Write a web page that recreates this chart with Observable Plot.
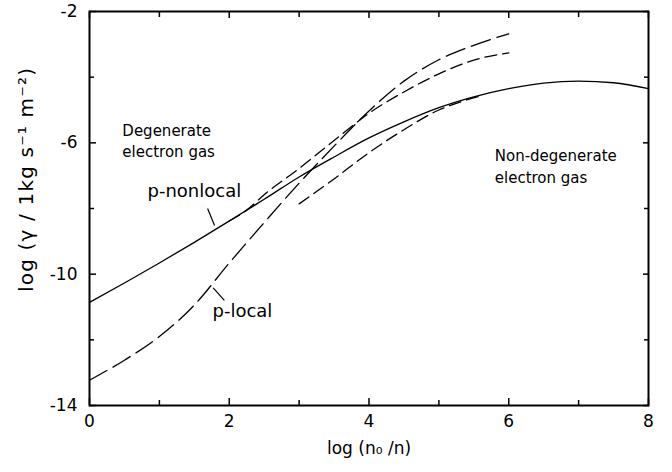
<!DOCTYPE html>
<html><head><meta charset="utf-8">
<script src="https://cdn.jsdelivr.net/npm/d3@7"></script>
<script src="https://cdn.jsdelivr.net/npm/@observablehq/plot@0.6"></script>
<style>body{margin:0;background:#fff} svg{display:block}</style>
</head><body><div id="chart"></div>
<script>
// p-nonlocal (solid)
const xNonlocal = [0,0.5,1,1.5,2,2.5,3,3.5,4,4.5,5,5.5,6,6.5,7,7.5,8];
const yNonlocal = [-10.86,-10.27,-9.66,-9.03,-8.38,-7.72,-7.04,-6.43,-5.85,-5.36,-4.93,-4.6,-4.35,-4.18,-4.12,-4.17,-4.35];
// p-local (long dashes)
const xLocal = [0,0.5,1,1.5,2,2.5,3,3.5,4,4.5,5,5.5,6];
const yLocal = [-13.23,-12.62,-11.9,-10.94,-9.66,-8.43,-7.23,-6.1,-5.03,-4.12,-3.47,-3.03,-2.68];
// upper short-dashed curve
const xUpper = [2,2.25,2.5,3,3.5,4,4.5,5,5.5,6];
const yUpper = [-8.38,-8.05,-7.58,-6.78,-5.93,-5.1,-4.45,-3.9,-3.48,-3.26];
// lower short-dashed curve
const xLower = [3,3.5,4,4.5,5,5.3,5.6];
const yLower = [-7.86,-7.1,-6.3,-5.6,-5.0,-4.76,-4.57];

const xMajor = [0,2,4,6,8];
const xMinor = [1,3,5,7];
const yMajor = [-2,-6,-10,-14];
const yMinor = [-4,-8,-12];

const xTitle = "log (n\u2080 /n)";
const yTitle = "log (\u03b3 / 1kg s\u207b\u00b9 m\u207b\u00b2)";

const regionLabels = [
  {text: "Degenerate\nelectron gas", x: 0.47, y: -6.44},
  {text: "Non-degenerate\nelectron gas", x: 5.8, y: -7.21}
];
const curveLabels = [
  {text: "p-nonlocal", x: 0.83, y: -7.66},
  {text: "p-local", x: 1.76, y: -11.31}
];
const leaders = [
  {x1: 1.69, y1: -8.0, x2: 1.79, y2: -8.52},
  {x1: 1.77, y1: -10.42, x2: 1.93, y2: -10.8}
];

const toPts = (xs, ys) => xs.map((x, i) => ({x, y: ys[i]}));
const nonlocal = toPts(xNonlocal, yNonlocal);
const local = toPts(xLocal, yLocal);
const upper = toPts(xUpper, yUpper);
const lower = toPts(xLower, yLower);

const lineOpts = {x: "x", y: "y", stroke: "black", strokeWidth: 1.3, curve: "monotone-x"};
const blank = () => "";

const chart = Plot.plot({
  width: 672,
  height: 472,
  marginLeft: 89,
  marginRight: 24,
  marginTop: 11,
  marginBottom: 67,
  style: {fontFamily: "DejaVu Sans", fontSize: "17px", background: "white", color: "black"},
  x: {domain: [0, 8]},
  y: {domain: [-14, -2]},
  marks: [
    Plot.line(nonlocal, lineOpts),
    Plot.line(local, {...lineOpts, strokeDasharray: "20,7"}),
    Plot.line(upper, {...lineOpts, strokeDasharray: "12,6"}),
    Plot.line(lower, {...lineOpts, strokeDasharray: "12,6"}),
    Plot.link(leaders, {x1: "x1", y1: "y1", x2: "x2", y2: "y2", stroke: "black", strokeWidth: 1.2}),
    Plot.text(regionLabels, {x: "x", y: "y", text: "text", textAnchor: "start", lineAnchor: "bottom", fontSize: 15, lineHeight: 1.42}),
    Plot.text(curveLabels, {x: "x", y: "y", text: "text", textAnchor: "start", lineAnchor: "bottom", fontSize: 18}),
    // ticks pointing inward on all four sides
    Plot.axisX(xMajor, {anchor: "bottom", tickSize: 7, dy: -7, strokeWidth: 1.5, tickFormat: blank, label: null}),
    Plot.axisX(xMinor, {anchor: "bottom", tickSize: 5, dy: -5, strokeWidth: 1.5, tickFormat: blank, label: null}),
    Plot.axisX(xMajor, {anchor: "top", tickSize: 6, dy: 6, strokeWidth: 1.5, tickFormat: blank, label: null}),
    Plot.axisX(xMinor, {anchor: "top", tickSize: 5, dy: 5, strokeWidth: 1.5, tickFormat: blank, label: null}),
    Plot.axisY(yMajor, {anchor: "left", tickSize: 7, dx: 7, strokeWidth: 1.5, tickFormat: blank, label: null}),
    Plot.axisY(yMinor, {anchor: "left", tickSize: 5, dx: 5, strokeWidth: 1.5, tickFormat: blank, label: null}),
    Plot.axisY(yMajor, {anchor: "right", tickSize: 6, dx: -6, strokeWidth: 1.5, tickFormat: blank, label: null}),
    Plot.axisY(yMinor, {anchor: "right", tickSize: 5, dx: -5, strokeWidth: 1.5, tickFormat: blank, label: null}),
    // tick labels
    Plot.axisX(xMajor, {anchor: "bottom", tickSize: 0, tickPadding: 9, fontSize: 17, tickFormat: d => String(d), label: null}),
    Plot.axisY(yMajor, {anchor: "left", tickSize: 0, tickPadding: 12, fontSize: 17, tickFormat: d => String(d), label: null}),
    // x axis title
    Plot.text([xTitle], {frameAnchor: "bottom", dy: 48, textAnchor: "middle", lineAnchor: "bottom", fontSize: 17}),
    Plot.frame({stroke: "black", strokeWidth: 2})
  ]
});
// y axis title (rotated), placed beside the frame
d3.select(chart).append("text")
  .attr("transform", "translate(33,180) rotate(-90)")
  .attr("text-anchor", "middle")
  .attr("font-family", "DejaVu Sans")
  .attr("font-size", 20)
  .attr("textLength", 224)
  .attr("lengthAdjust", "spacing")
  .attr("fill", "black")
  .text(yTitle);
document.getElementById("chart").appendChild(chart);
</script>
</body></html>
